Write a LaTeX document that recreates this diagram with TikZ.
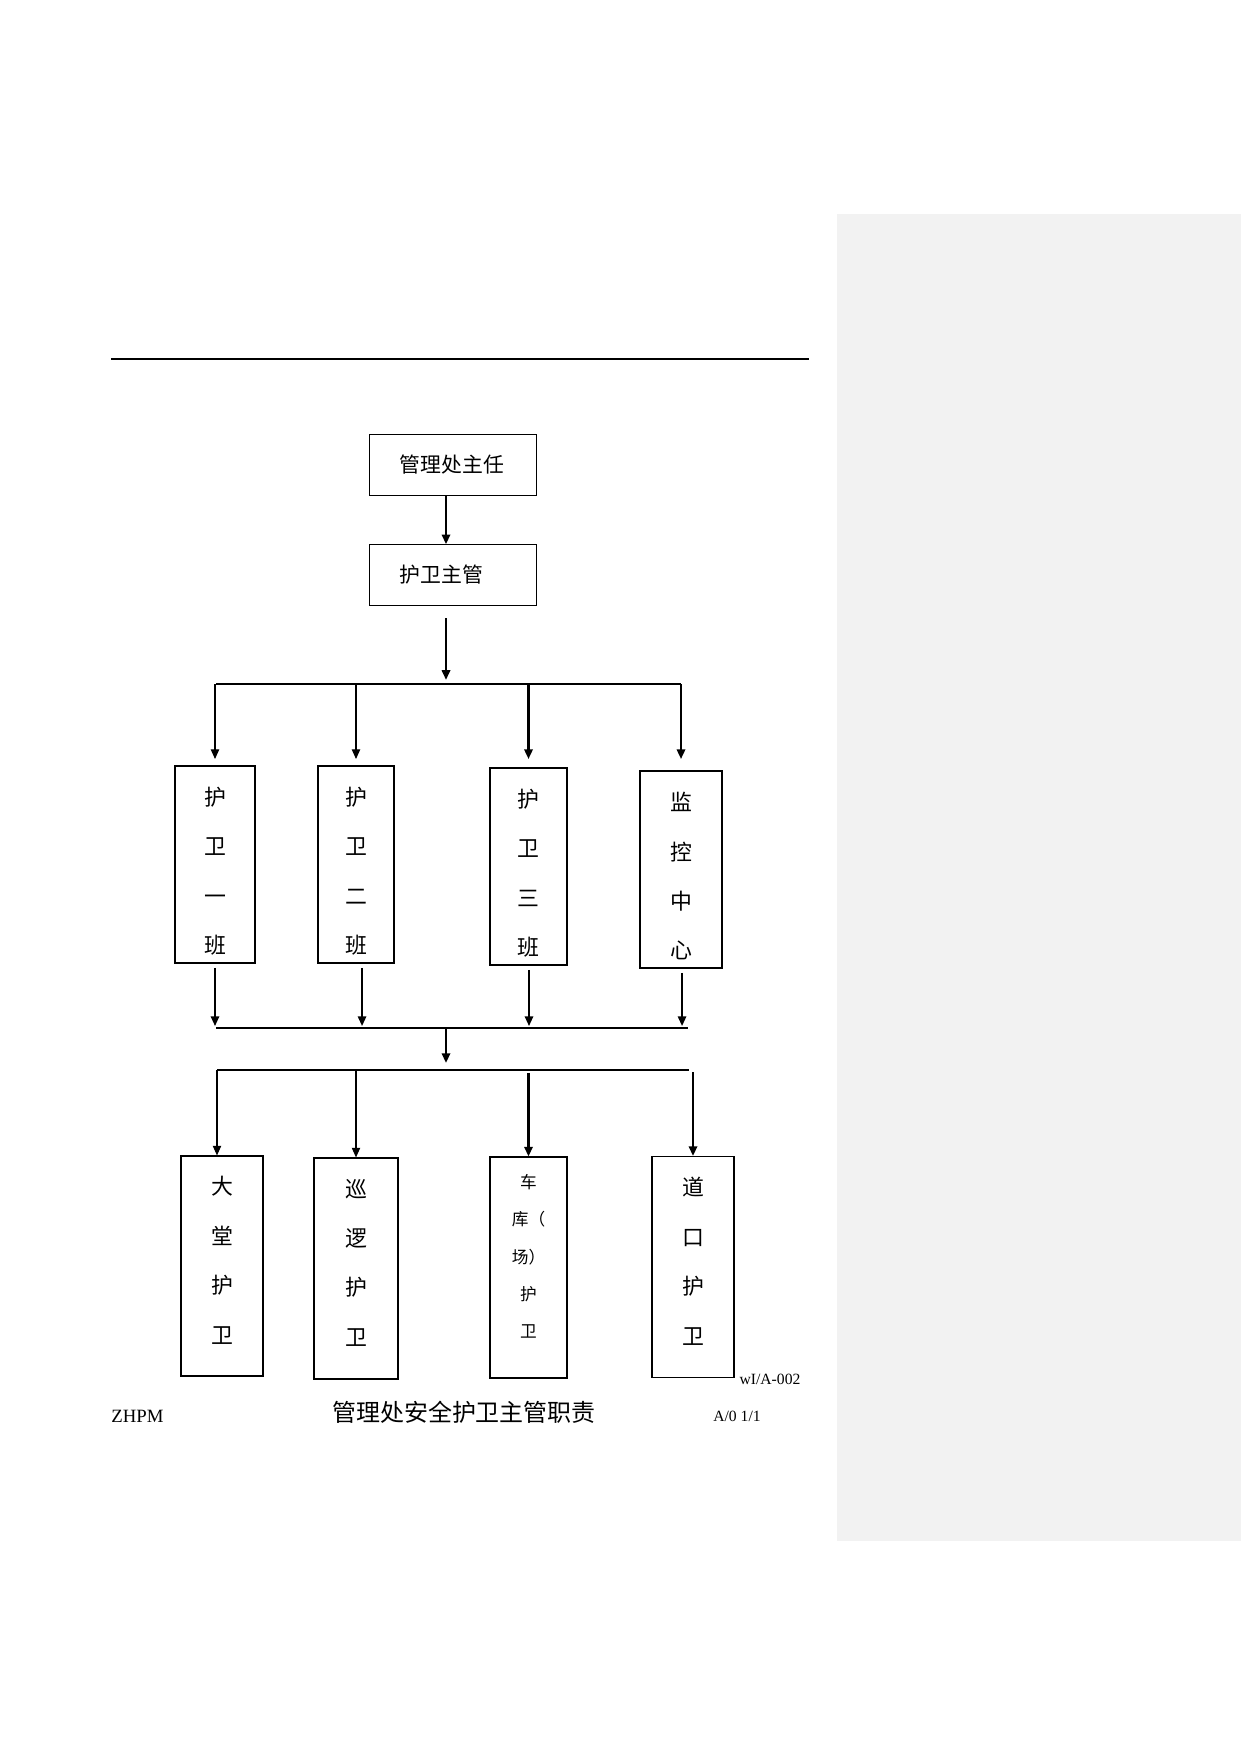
\documentclass[tikz,border=0pt]{standalone}
\usepackage{fontspec}
\setmainfont{Liberation Serif}
\newfontfamily\cjk{Noto Sans CJK SC}
\usetikzlibrary{arrows.meta}
\definecolor{panelgray}{HTML}{F2F2F2}
\newcommand\padtop{\rule{0pt}{15.4pt}}
\newcommand\padbot[1]{\rule[-#1]{0pt}{0pt}}
\tikzset{
  headbox/.style={draw,line width=0.6pt,minimum width=79.9pt,minimum height=29pt,
    text width=51pt,inner xsep=14.5pt,align=left,font=\cjk\fontsize{10}{12}\selectfont},
  postbox/.style={draw,line width=0.6pt,inner sep=0pt,align=center,
    font=\cjk\fontsize{10.5}{23.7}\selectfont},
  link/.style={-{Triangle[width=4pt,length=4.6pt]},line width=#1},
  link/.default=0.5pt,
  bus/.style={line width=0.55pt},
}
\begin{document}
\begin{tikzpicture}[x=0.4797pt,y=-0.4797pt]
  % page, comment pane, header rule
  \useasboundingbox (0,0) rectangle (1241,1754);
  \fill[panelgray] (837,214) rectangle (1241,1541);
  \draw[line width=0.5pt] (111,359) -- (809,359);
  % head boxes
  \node[headbox] (director) at (453,465) {管理处主任};
  \node[headbox] (guard) at (453,575) {护卫主管};
  % shifts and monitoring
  \node[postbox,minimum width=38.4pt,minimum height=94.5pt] (shift1) at (215,864.5) {\padtop 护\\卫\\一\\班};
  \node[postbox,minimum width=36.5pt,minimum height=94.5pt] (shift2) at (356,864.5) {\padtop 护\\卫\\二\\班};
  \node[postbox,minimum width=36.9pt,minimum height=94.5pt] (shift3) at (528.5,866.5) {\padtop 护\\卫\\三\\班};
  \node[postbox,minimum width=39.3pt,minimum height=94.5pt] (monitor) at (681,869.5) {\padtop 监\\控\\中\\心};
  % posts
  \node[postbox,minimum width=39.3pt,minimum height=105.5pt] (lobby) at (222,1266) {大\\堂\\护\\卫\padbot{6pt}};
  \node[postbox,minimum width=40.3pt,minimum height=106pt] (patrol) at (356,1268.5) {巡\\逻\\护\\卫\padbot{6pt}};
  \node[postbox,minimum width=36.9pt,minimum height=106pt,
    font=\cjk\fontsize{8}{17.8}\selectfont] (garage) at (528.5,1267.5) {车\\库（\\场）\\护\\卫\padbot{11pt}};
  \node[postbox,minimum width=39.3pt,minimum height=106pt] (gate) at (693,1267) {道\\口\\护\\卫\padbot{6pt}};
  % junctions and bus ends
  \coordinate (j1) at (446,684);
  \coordinate (tip1) at (446,759);
  \coordinate (tip2) at (446,1026);
  \coordinate (j2) at (446,1028);
  \coordinate (j3) at (446,1070);
  \coordinate (bus1w) at (216,684);
  \coordinate (bus1e) at (681,684);
  \coordinate (bus2w) at (216,1028);
  \coordinate (bus2e) at (688,1028);
  \coordinate (bus3w) at (217,1070);
  \coordinate (bus3e) at (689,1070);
  % director -> guard -> first bus
  \draw[link=1pt] (director.south -| j1) -- (guard.north -| j1);
  \draw[link=1pt,shorten <=6pt,shorten >=2pt] (guard.south -| j1) -- (j1);
  \draw[bus] (bus1w) -- (bus1e);
  \foreach \n/\w in {shift1/0.5pt,shift2/0.5pt,shift3/1pt,monitor/1pt}
    \draw[link=\w] (\n |- j1) -- (\n |- tip1);
  % shifts -> second bus
  \foreach \n/\dx in {shift1/0pt,shift2/2.9pt,shift3/0.24pt,monitor/0.5pt}
    \draw[link=0.8pt] ([shift={(\dx,-2pt)}]\n.south) -- ([xshift=\dx]\n.south |- tip2);
  \draw[bus] (bus2w) -- (bus2e);
  \draw[link=1pt,shorten >=3.4pt] (j2) -- (j3);
  % third bus -> posts
  \draw[bus] (bus3w) -- (bus3e);
  \draw[link] ([xshift=-2.4pt]lobby.north |- j3) -- ([xshift=-2.4pt]lobby.north);
  \draw[link] (patrol.north |- j3) -- (patrol.north);
  \draw[link=1pt] ([yshift=-1.4pt]garage.north |- j3) -- (garage.north);
  \draw[link=1pt] ([yshift=-1pt]gate.north |- j3) -- (gate.north);
  % footer
  \node[font=\fontsize{7.5}{9}\selectfont] (docno) at (770,1379) {wI/A-002};
  \node[anchor=west,inner sep=0pt,font=\fontsize{9}{10}\selectfont] (doccode) at (111,1416) {ZHPM};
  \node[font=\cjk\fontsize{11.5}{13}\selectfont] (doctitle) at (464,1412) {管理处安全护卫主管职责};
  \node[font=\fontsize{7.5}{9}\selectfont] (docrev) at (737,1416) {A/0 1/1};
\end{tikzpicture}
\end{document}
